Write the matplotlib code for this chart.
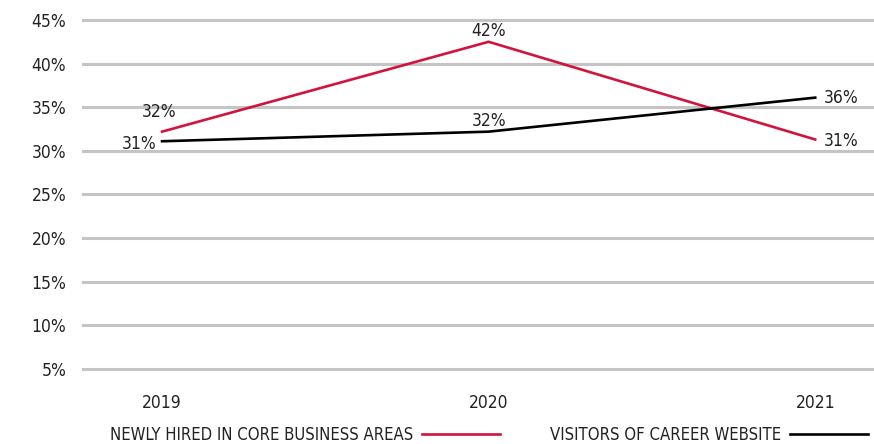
import matplotlib.pyplot as plt

years = ["2019", "2020", "2021"]
newly_hired = [32.2, 42.5, 31.3]
career_visitors = [31.1, 32.2, 36.1]
series_names = ["NEWLY HIRED IN CORE BUSINESS AREAS", "VISITORS OF CAREER WEBSITE"]
y_ticks = [5, 10, 15, 20, 25, 30, 35, 40, 45]

RED = "#d2143c"
GRID = "#c4c4c4"

plt.rcParams["font.family"] = ["DejaVu Sans"]
plt.rcParams["font.stretch"] = "condensed"
plt.rcParams["text.color"] = "#222222"

fig = plt.figure(figsize=(8.74, 4.44), dpi=100)
ax = fig.add_axes([0.095, 0.169, 0.905, 0.786])

x = list(range(len(years)))
ax.plot(x, newly_hired, color=RED, lw=1.9, label=series_names[0], zorder=3)
ax.plot(x, career_visitors, color="black", lw=1.9, label=series_names[1], zorder=3)

ax.set_xlim(-0.242, 2.18)
ax.set_ylim(5, 45)
ax.set_yticks(y_ticks)
ax.set_yticklabels([f"{t}%" for t in y_ticks])
ax.set_xticks(x)
ax.set_xticklabels(years)
ax.tick_params(length=0, labelsize=12.5, colors="#222222")
ax.tick_params(axis="y", pad=12)
ax.tick_params(axis="x", pad=18)
for s in ax.spines.values():
    s.set_visible(False)
ax.yaxis.grid(True, color=GRID, lw=2.2)
ax.set_axisbelow(True)
# keep the top and bottom gridlines at full width
for gl in ax.get_ygridlines():
    gl.set_clip_on(False)

# value labels
fs = 12.5
ax.annotate(f"{newly_hired[0]:.0f}%", (0, newly_hired[0]), xytext=(-2, 8),
            textcoords="offset points", ha="center", va="bottom", fontsize=fs)
ax.annotate(f"{career_visitors[0]:.0f}%", (0, career_visitors[0]), xytext=(-4, -2),
            textcoords="offset points", ha="right", va="center", fontsize=fs)
ax.annotate(f"{newly_hired[1]:.0f}%", (1, newly_hired[1]), xytext=(0, 1),
            textcoords="offset points", ha="center", va="bottom", fontsize=fs)
ax.annotate(f"{career_visitors[1]:.0f}%", (1, career_visitors[1]), xytext=(0, 1),
            textcoords="offset points", ha="center", va="bottom", fontsize=fs)
ax.annotate(f"{career_visitors[2]:.0f}%", (2, career_visitors[2]), xytext=(6, 0),
            textcoords="offset points", ha="left", va="center", fontsize=fs)
ax.annotate(f"{newly_hired[2]:.0f}%", (2, newly_hired[2]), xytext=(6, -1),
            textcoords="offset points", ha="left", va="center", fontsize=fs)

fig.legend(loc="lower left", bbox_to_anchor=(0.109, -0.034), ncol=2, frameon=False,
           markerfirst=False, handlelength=4.7, handletextpad=0.5, columnspacing=3.0,
           fontsize=12)

fig.savefig("out.png", dpi=100)
